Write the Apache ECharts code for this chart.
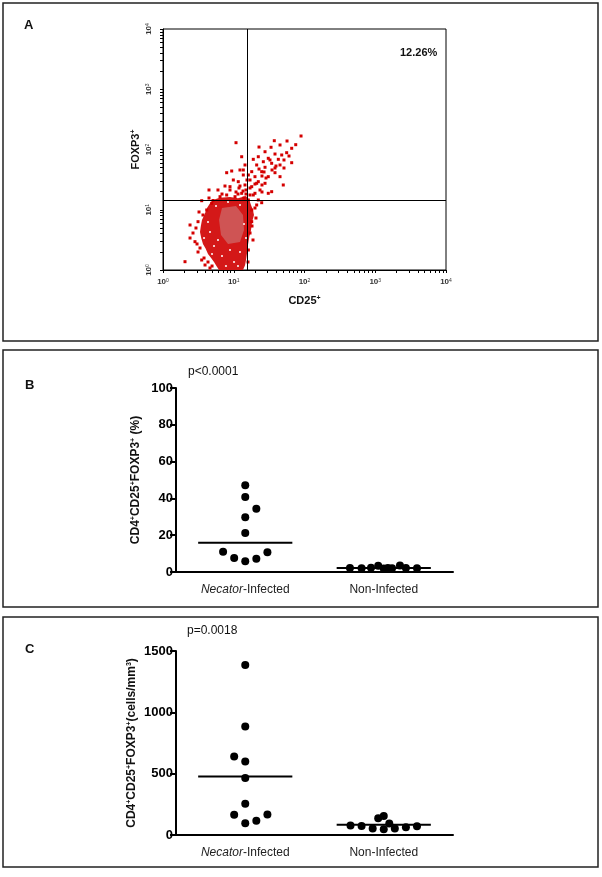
<!DOCTYPE html>
<html><head><meta charset="utf-8">
<script src="https://cdn.jsdelivr.net/npm/echarts@6/dist/echarts.min.js"></script>
<style>html,body{margin:0;padding:0;background:#fff}#c{width:602px;height:877px}</style>
</head><body><div id="c"></div>
<script>
// ---------- Panel A : flow cytometry, values are log10 fluorescence ----------
const flowDecades = [0, 1, 2, 3, 4];
const gateCD25 = 1.19;
const gateFOXP3 = 1.157;
const quadrantPercent = '12.26%';
// outline of the dense (solid red) event cloud, [log10 CD25, log10 FOXP3]
const denseRegion = [[0.707,1.162],[0.80,1.20],[0.947,1.212],[1.06,1.19],[1.173,1.228],[1.22,1.16],[1.244,1.079],[1.27,1.00],[1.286,0.913],[1.26,0.80],[1.244,0.664],[1.22,0.55],[1.201,0.415],[1.19,0.30],[1.173,0.166],[1.16,0.08],[1.131,0],[0.792,0],[0.76,0.06],[0.721,0.133],[0.68,0.20],[0.636,0.266],[0.60,0.36],[0.565,0.432],[0.54,0.53],[0.523,0.631],[0.535,0.73],[0.551,0.830],[0.59,0.93],[0.622,1.029],[0.66,1.10]];
// outline of the highest-density (pale) core
const coreRegion = [[0.834,1.029],[1.032,1.062],[1.131,0.913],[1.145,0.664],[1.088,0.465],[0.919,0.432],[0.820,0.581],[0.792,0.830]];
// individual sparse events
const sparseEvents = [
[1.951,2.224],[1.573,2.146],[1.032,2.113],[1.654,2.075],[1.876,2.080],[1.527,2.037],[1.819,2.020],[1.442,1.963],[1.748,1.947],[1.583,1.925],
[1.678,1.909],[1.347,1.880],[1.112,1.880],[1.488,1.854],[1.630,1.837],[1.276,1.837],[1.418,1.797],[1.819,1.781],[1.536,1.771],[1.654,1.743],
[1.159,1.743],[1.324,1.743],[1.442,1.705],[0.971,1.643],[1.254,1.632],[1.395,1.632],[1.583,1.615],[0.900,1.615],[1.135,1.577],[1.300,1.549],
[1.488,1.549],[1.654,1.549],[1.230,1.494],[1.347,1.466],[1.442,1.439],[1.064,1.466],[0.947,1.328],[1.254,1.383],[1.371,1.328],[1.488,1.273],
[1.276,1.245],[1.112,1.273],[1.018,1.217],[1.206,1.162],[1.347,1.162],[1.536,1.300],[1.324,1.079],[1.395,1.117],[1.700,1.411],[1.159,1.411],
[1.206,1.577],[1.135,1.660],[1.324,1.439],[1.088,1.660],[0.994,1.494],[0.947,1.383],[0.806,1.217],[0.900,1.245],[0.707,1.154],[0.547,1.150],
[0.382,0.747],[0.311,0.138],[0.452,0.470],[0.523,0.365],[0.547,0.166],[0.424,0.614],[0.495,0.802],[0.565,0.913],[0.618,0.996],[0.688,1.107],
[0.382,0.531],[0.466,0.697],[0.594,0.083],[0.664,0.033],[0.495,0.299],[0.636,0.133],[1.254,0.802],[1.230,0.614],[1.254,0.996],[1.300,1.273],
[1.206,0.332],[1.314,0.863],[1.272,0.498],[1.173,1.328],[1.230,1.245],[1.145,1.195],[1.399,1.411],[1.456,1.527],[1.541,1.660],[1.597,1.726],
[1.710,1.826],[1.781,1.892],[1.399,1.560],[1.187,1.494],[1.074,1.361],[1.032,1.295],[1.357,1.676],[1.710,1.693],
[0.509,0.963],[0.481,0.432],[0.580,0.199],[0.693,0.066],[1.201,0.133],[1.258,0.730],[1.300,1.029],[0.650,1.195],[0.834,1.261],[1.060,1.261],
[1.131,1.311],[0.777,1.328],[0.876,1.394],[0.650,1.328],[1.173,1.261],[1.230,1.361],[1.300,1.427],[1.088,1.394],[1.399,1.295],[1.428,1.627],
[1.512,1.826],[1.753,2.141],[1.357,2.041],[1.583,1.693]
];
// empty (white) gaps visible inside the dense cloud
const cloudGaps = [[0.664,0.631],[0.721,0.398],[0.834,0.232],[1.004,0.133],[1.088,0.299],[0.636,0.797],[0.919,1.129],[1.145,0.763],[0.777,0.498],
[1.060,0.066],[0.890,0.066],[0.947,0.332],[0.693,0.266],[1.173,0.531],[0.580,0.531],[0.749,1.062],[1.088,1.079]];

// ---------- Panels B and C ----------
const groups = ['Necator-Infected', 'Non-Infected'];
const pctNecator    = [47.1, 40.8, 34.4, 29.7, 21.2, 11.0, 10.7, 7.6, 7.2, 5.8];
const pctNecatorJit = [0, 0, 0.08, 0, 0, -0.16, 0.16, -0.08, 0.08, 0];
const pctNonInf     = [2.2, 2.1, 2.3, 3.4, 1.9, 2.2, 2.0, 3.6, 2.2, 2.1];
const pctNonInfJit  = [-0.244, -0.16, -0.092, -0.04, 0, 0.03, 0.06, 0.117, 0.16, 0.24];
const pctMedians    = [15.9, 2.2];
const pValueB = 'p<0.0001';

const cntNecator    = [1386, 884, 640, 600, 464, 255, 165, 168, 116, 95];
const cntNecatorJit = [0, 0, -0.08, 0, 0, 0, -0.08, 0.16, 0.08, 0];
const cntNonInf     = [77, 74, 52, 136, 155, 46, 93, 52, 63, 72];
const cntNonInfJit  = [-0.24, -0.16, -0.08, -0.04, 0, 0, 0.04, 0.08, 0.16, 0.24];
const cntMedians    = [477, 84];
const pValueC = 'p=0.0018';

// ---------- build ----------
const MED_HALF = 0.34;
const minorTicks = [];
for (let d = 0; d < 4; d++) for (let k = 1; k <= 9; k++) minorTicks.push(d + Math.log10(k));
minorTicks.push(4);
const decadeLabel = v => '{b|10}{s|' + Math.round(v) + '}';
const FF = 'Arial, Liberation Sans, sans-serif';
const decRich = { b: { fontSize: 8, fontWeight: 'bold', color: '#333', fontFamily: FF },
                  s: { fontSize: 5, color: '#333', verticalAlign: 'top', lineHeight: 5, fontFamily: FF } };
const supRich = (fs) => ({
  t: { fontSize: fs, fontWeight: 'bold', color: '#111', fontFamily: FF },
  s: { fontSize: Math.round(fs * 0.62), fontWeight: 'bold', color: '#111', verticalAlign: 'top', lineHeight: Math.round(fs * 0.7), fontFamily: FF }
});

function pts(vals, jit, g) { return vals.map((v, i) => [g + 1 + jit[i], v]); }
function poly(region, fill) {
  return {
    type: 'custom', xAxisIndex: 0, yAxisIndex: 0, data: [region[0]], silent: true, clip: true,
    renderItem: (params, api) => ({
      type: 'polygon',
      shape: { points: region.map(p => api.coord(p)) },
      style: { fill: fill }
    })
  };
}
function medianSeries(xi, m, g) {
  return { type: 'line', xAxisIndex: xi, yAxisIndex: xi, symbol: 'none', silent: true,
    lineStyle: { color: '#000', width: 2 }, data: [[g + 1 - MED_HALF, m], [g + 1 + MED_HALF, m]], z: 3 };
}
function dots(xi, data) {
  return { type: 'scatter', xAxisIndex: xi, yAxisIndex: xi, data: data, symbolSize: 8, silent: true,
    itemStyle: { color: '#000', opacity: 1 } };
}
const catFormatter = v => v === 1 ? '{i|Necator}-Infected' : groups[1];
const catAxis = (gi) => ({
  gridIndex: gi, type: 'value', min: 0.5, max: 2.5,
  axisLine: { show: true, lineStyle: { color: '#000', width: 2 } },
  axisTick: { show: false }, splitLine: { show: false },
  axisLabel: { customValues: [1, 2], formatter: catFormatter, fontSize: 12, color: '#222', margin: 12,
    fontFamily: FF, rich: { i: { fontStyle: 'italic', fontSize: 12, color: '#222', fontFamily: FF } } }
});
const valAxis = (gi, max, interval, name, gap) => ({
  gridIndex: gi, type: 'value', min: 0, max: max, interval: interval,
  axisLine: { show: true, lineStyle: { color: '#000', width: 2 } },
  axisTick: { show: true, length: 6, lineStyle: { color: '#000', width: 2 } },
  splitLine: { show: false },
  axisLabel: { fontSize: 13, fontWeight: 'bold', color: '#000', margin: 3, fontFamily: FF, formatter: v => String(v) },
  name: name, nameLocation: 'middle', nameGap: gap, nameRotate: 90,
  nameTextStyle: { rich: supRich(12) }
});

const chart = echarts.init(document.getElementById('c'), null, { renderer: 'canvas' });
chart.setOption({
  animation: false,
  backgroundColor: '#fff',
  grid: [
    { left: 163, top: 29, width: 283, height: 241, show: true, borderColor: '#000', borderWidth: 1 },
    { left: 176, top: 388, width: 277, height: 184 },
    { left: 176, top: 651, width: 277, height: 184 }
  ],
  xAxis: [
    { gridIndex: 0, type: 'value', min: 0, max: 4, interval: 1,
      axisLine: { show: true, lineStyle: { color: '#000', width: 1 } },
      axisTick: { show: true, customValues: minorTicks, length: 3, lineStyle: { color: '#000', width: 1 } },
      axisLabel: { customValues: flowDecades, formatter: decadeLabel, margin: 8, rich: decRich },
      splitLine: { show: false },
      name: '{t|CD25}{s|+}', nameLocation: 'middle', nameGap: 25, nameTextStyle: { rich: supRich(11) } },
    catAxis(1), catAxis(2)
  ],
  yAxis: [
    { gridIndex: 0, type: 'value', min: 0, max: 4, interval: 1,
      axisLine: { show: true, lineStyle: { color: '#000', width: 1 } },
      axisTick: { show: true, customValues: minorTicks, length: 3, lineStyle: { color: '#000', width: 1 } },
      axisLabel: { customValues: flowDecades, formatter: decadeLabel, margin: 10, rotate: 90, rich: decRich },
      splitLine: { show: false },
      name: '{t|FOXP3}{s|+}', nameLocation: 'middle', nameGap: 22, nameRotate: 90, nameTextStyle: { rich: supRich(11) } },
    valAxis(1, 100, 20, '{t|CD4}{s|+}{t|CD25}{s|+}{t|FOXP3}{s|+}{t| (%)}', 34),
    valAxis(2, 1500, 500, '{t|CD4}{s|+}{t|CD25}{s|+}{t|FOXP3}{s|+}{t|(cells/mm}{s|3}{t|)}', 38)
  ],
  series: [
    poly(denseRegion, '#d41818'),
    poly(coreRegion, '#cf5454'),
    { type: 'scatter', xAxisIndex: 0, yAxisIndex: 0, data: cloudGaps, symbol: 'rect', symbolSize: 2,
      itemStyle: { color: '#f4c8c8', opacity: 1 }, silent: true },
    { type: 'scatter', xAxisIndex: 0, yAxisIndex: 0, data: sparseEvents, symbol: 'rect', symbolSize: 3,
      itemStyle: { color: '#d40000', opacity: 1 }, silent: true,
      markLine: { symbol: 'none', silent: true, label: { show: false },
        lineStyle: { color: '#000', width: 1, type: 'solid' },
        data: [{ xAxis: gateCD25 }, { yAxis: gateFOXP3 }] } },
    dots(1, pts(pctNecator, pctNecatorJit, 0)),
    dots(1, pts(pctNonInf, pctNonInfJit, 1)),
    medianSeries(1, pctMedians[0], 0), medianSeries(1, pctMedians[1], 1),
    dots(2, pts(cntNecator, cntNecatorJit, 0)),
    dots(2, pts(cntNonInf, cntNonInfJit, 1)),
    medianSeries(2, cntMedians[0], 0), medianSeries(2, cntMedians[1], 1)
  ],
  graphic: [
    { type: 'rect', shape: { x: 3, y: 3, width: 595, height: 338 }, style: { fill: 'none', stroke: '#222', lineWidth: 1.5 } },
    { type: 'rect', shape: { x: 3, y: 350, width: 595, height: 257 }, style: { fill: 'none', stroke: '#222', lineWidth: 1.5 } },
    { type: 'rect', shape: { x: 3, y: 617, width: 595, height: 250 }, style: { fill: 'none', stroke: '#222', lineWidth: 1.5 } },
    { type: 'text', left: 24, top: 19, style: { text: 'A', font: 'bold 13px ' + FF, fill: '#111' } },
    { type: 'text', left: 25, top: 379, style: { text: 'B', font: 'bold 13px ' + FF, fill: '#111' } },
    { type: 'text', left: 25, top: 643, style: { text: 'C', font: 'bold 13px ' + FF, fill: '#111' } },
    { type: 'text', left: 400, top: 47, style: { text: quadrantPercent, font: 'bold 11px ' + FF, fill: '#111' } },
    { type: 'text', left: 188, top: 366, style: { text: pValueB, font: '12px ' + FF, fill: '#111' } },
    { type: 'text', left: 187, top: 625, style: { text: pValueC, font: '12px ' + FF, fill: '#111' } }
  ]
});
</script></body></html>
